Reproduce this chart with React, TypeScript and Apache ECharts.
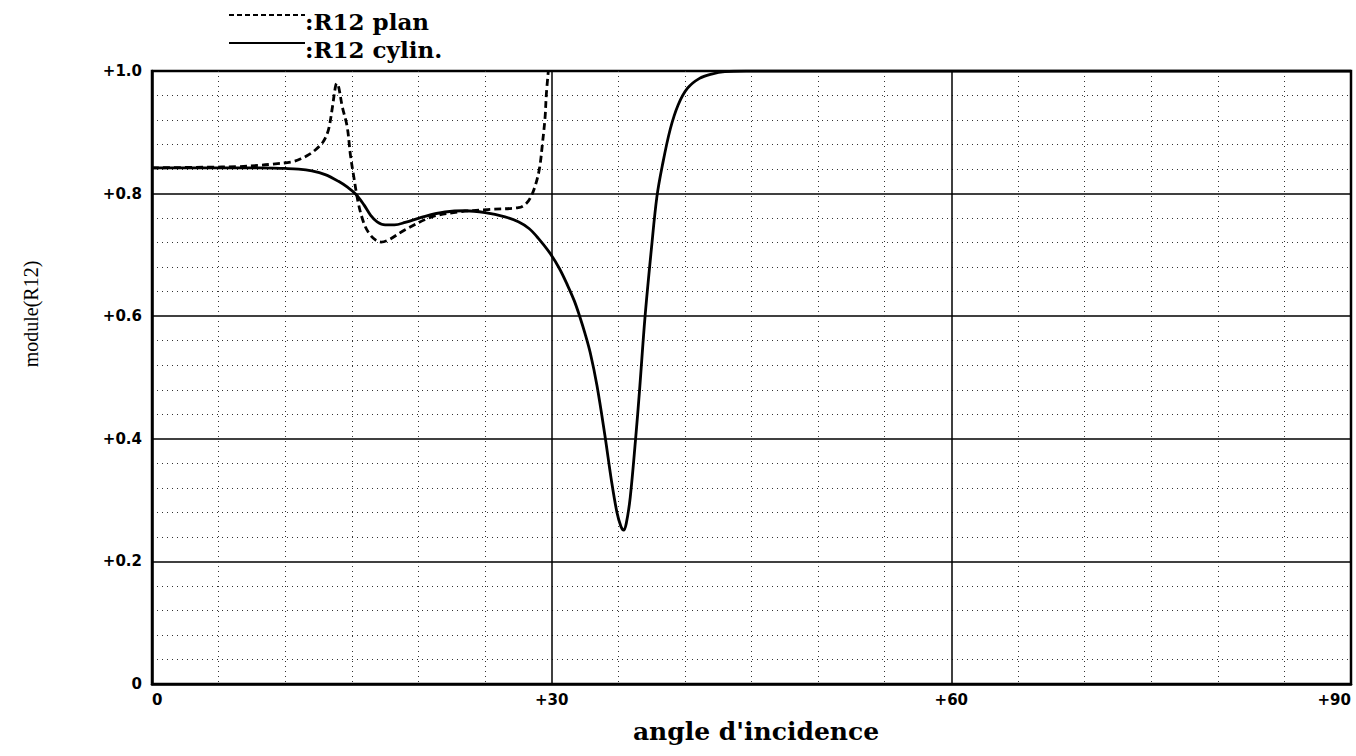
import React, { useEffect, useRef } from "react";
import * as echarts from "echarts";

// R12 cylin. (solid)
const cylAngles = [0, 4, 8, 10, 11, 12, 13, 14, 14.7, 15.3, 15.9, 16.4, 16.9, 17.5, 18.2, 19.0, 20.5, 22.0, 23.5, 25.0, 26.5, 27.5, 28.3, 29.0, 29.9, 30.6, 31.2, 31.7, 32.1, 32.5, 32.9, 33.4, 34.0, 34.5, 34.9, 35.2, 35.4, 35.6, 35.9, 36.3, 36.6, 37.0, 37.5, 37.9, 38.3, 38.9, 39.5, 40.2, 41.1, 42.0, 43.0, 44.6, 50, 60, 70, 80, 90];
const cylValues = [0.842, 0.842, 0.842, 0.841, 0.840, 0.837, 0.831, 0.820, 0.810, 0.799, 0.782, 0.765, 0.754, 0.749, 0.749, 0.753, 0.763, 0.770, 0.772, 0.769, 0.762, 0.754, 0.743, 0.727, 0.702, 0.677, 0.650, 0.625, 0.600, 0.572, 0.540, 0.487, 0.405, 0.330, 0.280, 0.257, 0.251, 0.262, 0.305, 0.400, 0.480, 0.597, 0.713, 0.795, 0.845, 0.905, 0.945, 0.972, 0.988, 0.995, 0.999, 1.0, 1.0, 1.0, 1.0, 1.0, 1.0];

// R12 plan (dashed)
const planAngles = [0, 4, 6.5, 8, 9, 10.55, 11.2, 11.8, 12.3, 12.8, 13.1, 13.3, 13.55, 13.75, 13.86, 14.0, 14.28, 14.65, 14.9, 15.15, 15.5, 15.9, 16.3, 16.8, 17.2, 17.8, 19.0, 21.0, 23.0, 25.2, 27.5, 28.0, 28.4, 28.8, 29.1, 29.3, 29.5, 29.6, 29.75];
const planValues = [0.842, 0.843, 0.844, 0.846, 0.848, 0.852, 0.857, 0.864, 0.872, 0.883, 0.895, 0.909, 0.942, 0.972, 0.980, 0.975, 0.942, 0.909, 0.862, 0.827, 0.783, 0.752, 0.735, 0.724, 0.721, 0.725, 0.741, 0.762, 0.770, 0.774, 0.777, 0.782, 0.793, 0.815, 0.843, 0.880, 0.923, 0.962, 1.0];

const xMin = 0;
const xMax = 90;
const xInterval = 30;
const yMin = 0;
const yMax = 1;
const yInterval = 0.2;

const legendPlan = ":R12 plan";
const legendCyl = ":R12 cylin.";
const xName = "angle d'incidence";
const yName = "module(R12)";

export default function App() {
  const ref = useRef<HTMLDivElement>(null);
  useEffect(() => {
    if (!ref.current) return;
    const chart = echarts.init(ref.current, undefined, { renderer: "svg" });
    const cylData = cylAngles.map((a, i) => [a, cylValues[i]]);
    const planData = planAngles.map((a, i) => [a, planValues[i]]);
    const tickFont = { fontFamily: "DejaVu Sans", fontWeight: "bold" as const, fontSize: 15, color: "#000" };
    chart.setOption({
      animation: false,
      backgroundColor: "#fff",
      grid: {
        left: 152,
        right: 5,
        top: 71,
        bottom: 72,
        show: true,
        borderColor: "#000",
        borderWidth: 2.5,
        backgroundColor: "transparent",
      },
      xAxis: {
        type: "value",
        min: xMin,
        max: xMax,
        interval: xInterval,
        axisLine: { show: true, lineStyle: { color: "#000", width: 2.5 } },
        axisTick: { show: false },
        axisLabel: {
          ...tickFont,
          margin: 8,
          alignMinLabel: "left",
          alignMaxLabel: "right",
          formatter: (v: number) => (v === 0 ? "0" : "+" + v),
        },
        splitLine: { show: true, lineStyle: { color: "#000", width: 1.5 } },
        minorTick: { show: true, splitNumber: 6, length: 0 },
        minorSplitLine: { show: true, lineStyle: { color: "#333", width: 1, type: [1, 4] } },
      },
      yAxis: {
        type: "value",
        min: yMin,
        max: yMax,
        interval: yInterval,
        axisLine: { show: true, lineStyle: { color: "#000", width: 2.5 } },
        axisTick: { show: false },
        axisLabel: {
          ...tickFont,
          margin: 10,
          formatter: (v: number) => (v === 0 ? "0" : "+" + v.toFixed(1)),
        },
        splitLine: { show: true, lineStyle: { color: "#000", width: 1.5 } },
        minorTick: { show: true, splitNumber: 5, length: 0 },
        minorSplitLine: { show: true, lineStyle: { color: "#333", width: 1, type: [1, 4] } },
      },
      series: [
        {
          name: "R12 plan",
          type: "line",
          data: planData,
          showSymbol: false,
          smooth: 0.35,
          clip: true,
          lineStyle: { color: "#000", width: 2.8, type: [7, 4] },
          z: 3,
        },
        {
          name: "R12 cylin.",
          type: "line",
          data: cylData,
          showSymbol: false,
          smooth: 0.35,
          clip: true,
          lineStyle: { color: "#000", width: 2.8 },
          z: 4,
        },
      ],
      graphic: [
        {
          type: "line",
          shape: { x1: 229, y1: 15, x2: 305, y2: 15 },
          style: { stroke: "#000", lineWidth: 2, lineDash: [5, 3] },
        },
        {
          type: "text",
          x: 305,
          y: 21,
          style: {
            text: legendPlan,
            fill: "#000",
            font: 'bold 23px "DejaVu Serif"',
            textAlign: "left",
            textVerticalAlign: "middle",
          },
        },
        {
          type: "line",
          shape: { x1: 229, y1: 43, x2: 305, y2: 43 },
          style: { stroke: "#000", lineWidth: 2 },
        },
        {
          type: "text",
          x: 305,
          y: 49,
          style: {
            text: legendCyl,
            fill: "#000",
            font: 'bold 23px "DejaVu Serif"',
            textAlign: "left",
            textVerticalAlign: "middle",
          },
        },
        {
          type: "text",
          x: 31,
          y: 314,
          rotation: Math.PI / 2,
          style: {
            text: yName,
            fill: "#000",
            font: '20px "Liberation Serif"',
            textAlign: "center",
            textVerticalAlign: "middle",
          },
        },
        {
          type: "text",
          x: 756,
          y: 731,
          style: {
            text: xName,
            fill: "#000",
            font: 'bold 25px "DejaVu Serif"',
            textAlign: "center",
            textVerticalAlign: "middle",
          },
        },
      ],
    });
    return () => chart.dispose();
  }, []);
  return (
    <div
      ref={ref}
      style={{ position: "fixed", left: 0, top: 0, width: 1356, height: 756, background: "#fff" }}
    />
  );
}
